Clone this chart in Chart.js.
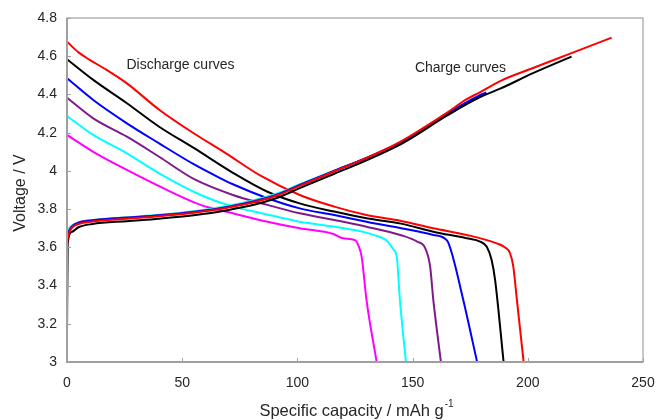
<!DOCTYPE html>
<html>
<head>
<meta charset="utf-8">
<script src="https://cdn.jsdelivr.net/npm/chart.js@4/dist/chart.umd.min.js"></script>
<style>
  html, body { margin: 0; padding: 0; background: #fff; }
  #wrap { width: 656px; height: 420px; position: relative; }
</style>
</head>
<body>
<div id="wrap"><canvas id="c" width="656" height="420"></canvas></div>
<script>
// Specific capacity (mAh/g) vs voltage (V) pairs for each cycle
const dischargeRed = [[0,4.676],[5,4.62],[10,4.58],[16,4.537],[26,4.458],[40,4.32],[55,4.197],[69,4.092],[84,3.975],[101,3.874],[116,3.813],[130,3.769],[145,3.738],[159,3.70],[173.5,3.665],[186.5,3.621],[190,3.60],[192.3,3.569],[193.7,3.50],[195.2,3.333],[198.2,3.0]];
const dischargeBlack = [[0,4.584],[11.4,4.476],[26,4.354],[40,4.231],[55,4.12],[72,3.99],[87,3.891],[101,3.83],[116,3.787],[130,3.752],[145,3.724],[159,3.682],[173.5,3.647],[179.3,3.63],[182.2,3.603],[184.3,3.534],[185.8,3.43],[189.5,3.0]];
const dischargeBlue = [[0,4.485],[11.4,4.371],[26,4.249],[40,4.144],[55,4.035],[66,3.965],[72,3.93],[87,3.857],[101,3.804],[116,3.769],[130,3.734],[145,3.70],[159,3.665],[165,3.635],[167,3.57],[172,3.324],[178,3.0]];
const dischargePurple = [[0,4.383],[11.4,4.275],[26,4.179],[40,4.074],[55,3.958],[72,3.874],[87,3.822],[101,3.778],[116,3.743],[130,3.708],[145,3.663],[152,3.63],[155.5,3.595],[157.6,3.50],[159,3.324],[162.3,3.0]];
const dischargeCyan = [[0,4.287],[11.4,4.188],[26,4.092],[40,3.987],[58,3.874],[72,3.813],[84,3.78],[101,3.734],[116,3.708],[127,3.685],[133,3.665],[138.8,3.635],[141.6,3.59],[143.1,3.551],[144.5,3.324],[147.1,3.0]];
const dischargeMagenta = [[0,4.188],[11.4,4.10],[26,4.005],[40,3.92],[58,3.822],[72,3.778],[86,3.737],[101,3.70],[115.6,3.67],[119.9,3.647],[125,3.638],[126.4,3.612],[127.9,3.55],[130,3.324],[134.4,3.0]];

const chargeRed = [[0,3.62],[0.5,3.66],[2,3.70],[5,3.722],[11,3.735],[26,3.75],[40,3.763],[55,3.781],[69,3.806],[84,3.845],[92,3.875],[101,3.922],[116,3.998],[130,4.068],[136,4.10],[145,4.155],[150,4.19],[165,4.305],[173.5,4.375],[179,4.41],[188,4.47],[202,4.537],[217,4.607],[236.4,4.697]];
const chargeBlack = [[0,3.15],[0.3,3.62],[2,3.68],[5,3.705],[11,3.722],[26,3.737],[40,3.75],[55,3.768],[69,3.793],[84,3.832],[92,3.862],[101,3.91],[116,3.985],[130,4.055],[145,4.14],[150,4.175],[165,4.29],[179,4.385],[188,4.43],[202,4.51],[219,4.598]];
const chargeBlue = [[0,3.66],[2,3.705],[5,3.727],[11,3.74],[26,3.754],[40,3.766],[55,3.784],[69,3.809],[84,3.848],[92,3.878],[101,3.925],[116,4.0],[130,4.068],[145,4.15],[150,4.185],[165,4.30],[179,4.395],[182,4.41]];
const chargePurple = [[0,3.665],[2,3.708],[5,3.73],[11,3.742],[26,3.756],[40,3.768],[55,3.786],[69,3.81],[84,3.85],[92,3.88],[101,3.926],[116,4.0],[130,4.066],[145,4.148],[150,4.182],[165,4.298],[180.7,4.397]];
const chargeCyan = [[0,3.69],[2,3.712],[5,3.73],[11,3.742],[26,3.757],[40,3.77],[55,3.789],[69,3.815],[84,3.856],[92,3.886],[101,3.93],[116,4.002],[130,4.066],[145,4.148],[150,4.18],[165,4.298]];
const chargeMagenta = [[0,3.675],[2,3.71],[5,3.729],[11,3.741],[26,3.755],[40,3.767],[55,3.785],[69,3.81],[84,3.85],[92,3.88],[101,3.925],[116,3.998],[130,4.064],[145,4.146],[151,4.195]];

const seriesColors = ['#ff0000', '#000000', '#0000ff', '#7f1a8c', '#00ffff', '#ff00ff'];
const xTickLabels = ['0', '50', '100', '150', '200', '250'];
const yTickLabels = ['3', '3.2', '3.4', '3.6', '3.8', '4', '4.2', '4.4', '4.6', '4.8'];

const FONT = '"Liberation Sans", Arial, Helvetica, sans-serif';
const TEXT = '#262626';

const toPoints = arr => arr.map(p => ({ x: p[0], y: p[1] }));
const line = (data, color) => ({
  data: toPoints(data),
  borderColor: color,
  borderWidth: 2,
  pointRadius: 0,
  fill: false,
  cubicInterpolationMode: 'monotone'
});

// first dataset is drawn on top
const datasets = [
  line(chargeRed, seriesColors[0]),
  line(chargeBlack, seriesColors[1]),
  line(chargeBlue, seriesColors[2]),
  line(chargePurple, seriesColors[3]),
  line(chargeCyan, seriesColors[4]),
  line(chargeMagenta, seriesColors[5]),
  line(dischargeRed, seriesColors[0]),
  line(dischargeBlack, seriesColors[1]),
  line(dischargeBlue, seriesColors[2]),
  line(dischargePurple, seriesColors[3]),
  line(dischargeCyan, seriesColors[4]),
  line(dischargeMagenta, seriesColors[5])
];

// plot frame with inward tick marks
const framePlugin = {
  id: 'frame',
  afterDatasetsDraw(chart) {
    const { ctx, chartArea: a, scales: { x, y } } = chart;
    ctx.save();
    ctx.strokeStyle = '#b4b4b4';
    ctx.lineWidth = 1.5;
    ctx.strokeRect(a.left, a.top, a.right - a.left, a.bottom - a.top);
    ctx.strokeStyle = '#a0a0a0';
    ctx.lineWidth = 2;
    ctx.beginPath();
    ctx.moveTo(a.left, a.top);
    ctx.lineTo(a.left, a.bottom);
    ctx.lineTo(a.right, a.bottom);
    ctx.stroke();
    ctx.lineWidth = 1;
    ctx.beginPath();
    x.ticks.forEach(t => {
      const px = Math.round(x.getPixelForValue(t.value)) + 0.5;
      ctx.moveTo(px, a.bottom);
      ctx.lineTo(px, a.bottom - 4);
    });
    y.ticks.forEach(t => {
      const py = Math.round(y.getPixelForValue(t.value)) + 0.5;
      ctx.moveTo(a.left, py);
      ctx.lineTo(a.left + 4, py);
    });
    ctx.stroke();
    ctx.restore();
  }
};

// axis titles and curve annotations
const textPlugin = {
  id: 'texts',
  afterDraw(chart) {
    const { ctx, chartArea: a, scales: { x, y } } = chart;
    ctx.save();
    ctx.fillStyle = TEXT;
    ctx.textBaseline = 'middle';

    ctx.font = '14px ' + FONT;
    ctx.textAlign = 'left';
    ctx.fillText('Discharge curves', x.getPixelForValue(25.8), y.getPixelForValue(4.554));
    ctx.fillText('Charge curves', x.getPixelForValue(151), y.getPixelForValue(4.54));

    // x title with superscript
    const main = 'Specific capacity / mAh g';
    const sup = '-1';
    ctx.font = '16.5px ' + FONT;
    const w1 = ctx.measureText(main).width;
    ctx.font = '10px ' + FONT;
    const w2 = ctx.measureText(sup).width;
    const cx = 356;
    const startX = cx - (w1 + w2) / 2;
    ctx.font = '16.5px ' + FONT;
    ctx.fillText(main, startX, 411);
    ctx.font = '10px ' + FONT;
    ctx.fillText(sup, startX + w1 + 1, 404);

    // y title
    ctx.font = '16px ' + FONT;
    ctx.translate(21, (a.top + a.bottom) / 2 + 3);
    ctx.rotate(-Math.PI / 2);
    ctx.textAlign = 'center';
    ctx.fillText('Voltage / V', 0, 0);
    ctx.restore();
  }
};

new Chart(document.getElementById('c'), {
  type: 'line',
  data: { datasets },
  options: {
    responsive: false,
    animation: false,
    devicePixelRatio: 1,
    layout: { padding: { left: 0, top: 18, right: 13, bottom: 0 } },
    plugins: { legend: { display: false }, tooltip: { enabled: false } },
    scales: {
      x: {
        type: 'linear',
        min: 0, max: 250,
        grid: { display: false, drawTicks: false },
        border: { display: false },
        ticks: {
          stepSize: 50,
          padding: 13,
          color: TEXT,
          font: { family: FONT, size: 14 },
          maxRotation: 0,
          callback: (v) => xTickLabels[Math.round(v / 50)]
        },
        afterFit: s => { s.height = 58; s.paddingLeft = 0; s.paddingRight = 0; }
      },
      y: {
        type: 'linear',
        min: 3, max: 4.8,
        grid: { display: false, drawTicks: false },
        border: { display: false },
        ticks: {
          stepSize: 0.2,
          padding: 10,
          color: TEXT,
          font: { family: FONT, size: 14 },
          callback: (v) => yTickLabels[Math.round((v - 3) / 0.2)]
        },
        afterFit: s => { s.width = 67; s.paddingTop = 0; s.paddingBottom = 0; }
      }
    }
  },
  plugins: [framePlugin, textPlugin]
});
</script>
</body>
</html>
